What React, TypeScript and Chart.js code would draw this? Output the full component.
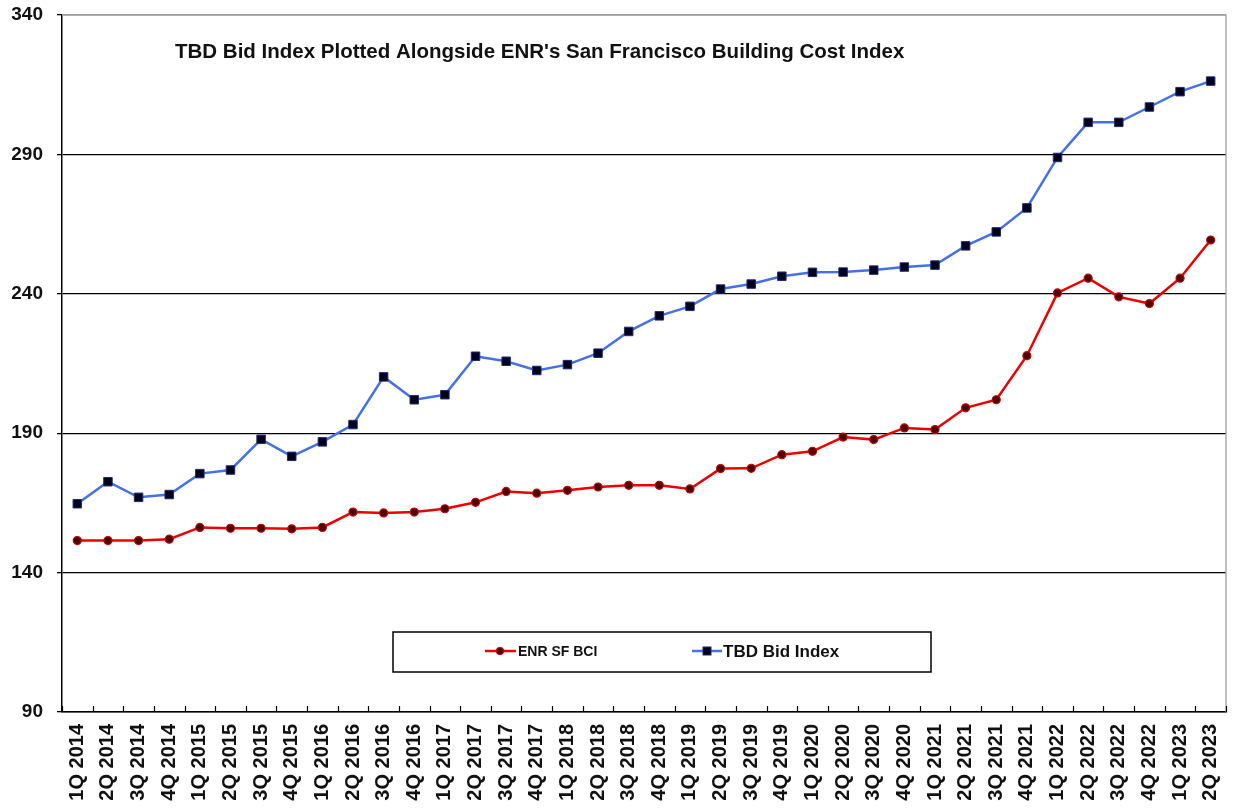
import React, { useEffect, useRef } from "react";
import { Chart, registerables } from "chart.js";

Chart.register(...registerables);

const quarters: string[] = [
  "1Q 2014", "2Q 2014", "3Q 2014", "4Q 2014",
  "1Q 2015", "2Q 2015", "3Q 2015", "4Q 2015",
  "1Q 2016", "2Q 2016", "3Q 2016", "4Q 2016",
  "1Q 2017", "2Q 2017", "3Q 2017", "4Q 2017",
  "1Q 2018", "2Q 2018", "3Q 2018", "4Q 2018",
  "1Q 2019", "2Q 2019", "3Q 2019", "4Q 2019",
  "1Q 2020", "2Q 2020", "3Q 2020", "4Q 2020",
  "1Q 2021", "2Q 2021", "3Q 2021", "4Q 2021",
  "1Q 2022", "2Q 2022", "3Q 2022", "4Q 2022",
  "1Q 2023", "2Q 2023",
];

const enrSfBci: number[] = [
  151.5, 151.5, 151.5, 152.0,
  156.2, 155.9, 155.9, 155.7,
  156.2, 161.7, 161.4, 161.7,
  162.9, 165.2, 169.1, 168.5,
  169.5, 170.7, 171.3, 171.3,
  170.0, 177.3, 177.4, 182.3,
  183.5, 188.6, 187.7, 191.9,
  191.3, 199.1, 202.0, 217.8,
  240.3, 245.6, 238.9, 236.5,
  245.6, 259.3,
];

const tbdBidIndex: number[] = [
  164.7, 172.6, 167.0, 168.0,
  175.5, 176.8, 187.8, 181.7,
  186.9, 193.1, 210.2, 202.0,
  203.8, 217.6, 215.8, 212.5,
  214.6, 218.7, 226.5, 232.1,
  235.5, 241.7, 243.5, 246.3,
  247.7, 247.8, 248.5, 249.6,
  250.3, 257.2, 262.2, 270.8,
  288.9, 301.5, 301.5, 307.0,
  312.5, 316.3,
];

const yTicks: number[] = [90, 140, 190, 240, 290, 340];

const chartTitle = "TBD Bid Index Plotted Alongside ENR's San Francisco Building Cost Index";
const seriesNames: string[] = ["ENR SF BCI", "TBD Bid Index"];

const FONT = "'Liberation Sans', Arial, Helvetica, sans-serif";

const decorPlugin = {
  id: "decor",
  beforeDatasetsDraw(chart: any) {
    const { ctx, chartArea: ca } = chart;
    ctx.save();
    ctx.strokeStyle = "#a0a0a0";
    ctx.lineWidth = 1.3;
    ctx.beginPath();
    ctx.moveTo(ca.left, ca.top);
    ctx.lineTo(ca.right, ca.top);
    ctx.lineTo(ca.right, ca.bottom);
    ctx.stroke();
    ctx.restore();
  },
  afterDraw(chart: any) {
    const { ctx, chartArea: ca } = chart;
    const xs = chart.scales.x;
    ctx.save();
    // inward x tick marks at category boundaries
    ctx.strokeStyle = "#000";
    ctx.lineWidth = 1.2;
    const n = quarters.length;
    const step = xs.getPixelForValue(1) - xs.getPixelForValue(0);
    for (let i = 0; i <= n; i++) {
      const x = Math.round(xs.getPixelForValue(i) - step / 2) + 0.5;
      ctx.beginPath();
      ctx.moveTo(x, ca.bottom);
      ctx.lineTo(x, ca.bottom - 6);
      ctx.stroke();
    }

    // title
    ctx.fillStyle = "#111";
    ctx.font = `bold 20.5px ${FONT}`;
    ctx.textBaseline = "alphabetic";
    ctx.textAlign = "left";
    ctx.fillText(chartTitle, ca.left + 113, ca.top + 43);

    // legend box
    const bx = ca.left + 331;
    const by = ca.bottom - 80;
    const bw = 538;
    const bh = 40;
    ctx.fillStyle = "#fff";
    ctx.fillRect(bx, by, bw, bh);
    ctx.strokeStyle = "#000";
    ctx.lineWidth = 1.5;
    ctx.strokeRect(bx, by, bw, bh);

    const cy = by + 19;
    const ds = chart.data.datasets;
    // item 1
    const l1 = bx + 92;
    ctx.strokeStyle = ds[0].borderColor;
    ctx.lineWidth = 2.5;
    ctx.beginPath();
    ctx.moveTo(l1, cy);
    ctx.lineTo(l1 + 31, cy);
    ctx.stroke();
    ctx.fillStyle = ds[0].pointBackgroundColor;
    ctx.strokeStyle = ds[0].pointBorderColor;
    ctx.lineWidth = 1.2;
    ctx.beginPath();
    ctx.arc(l1 + 15, cy, 3.5, 0, Math.PI * 2);
    ctx.fill();
    ctx.stroke();
    ctx.fillStyle = "#111";
    ctx.font = `bold 14px ${FONT}`;
    ctx.textBaseline = "middle";
    ctx.fillText(ds[0].label, l1 + 33, cy + 1);

    // item 2
    const l2 = bx + 299;
    ctx.strokeStyle = ds[1].borderColor;
    ctx.lineWidth = 2.5;
    ctx.beginPath();
    ctx.moveTo(l2, cy);
    ctx.lineTo(l2 + 30, cy);
    ctx.stroke();
    ctx.fillStyle = ds[1].pointBackgroundColor;
    ctx.strokeStyle = ds[1].pointBorderColor;
    ctx.lineWidth = 1;
    ctx.fillRect(l2 + 11, cy - 4, 8, 8);
    ctx.strokeRect(l2 + 11, cy - 4, 8, 8);
    ctx.fillStyle = "#111";
    ctx.font = `bold 17px ${FONT}`;
    ctx.fillText(ds[1].label, l2 + 31, cy + 1);
    ctx.restore();
  },
};

export default function App() {
  const ref = useRef<HTMLCanvasElement>(null);

  useEffect(() => {
    document.body.style.margin = "0";
    const canvas = ref.current;
    if (!canvas) return;
    const chart = new Chart(canvas, {
      type: "line",
      data: {
        labels: quarters,
        datasets: [
          {
            label: seriesNames[0],
            data: enrSfBci,
            borderColor: "#ee0000",
            borderWidth: 2.5,
            pointStyle: "circle",
            pointRadius: 4,
            pointBackgroundColor: "#4a0000",
            pointBorderColor: "#cc0000",
            pointBorderWidth: 1.2,
            tension: 0,
            fill: false,
          },
          {
            label: seriesNames[1],
            data: tbdBidIndex,
            borderColor: "#4670e8",
            borderWidth: 2.5,
            pointStyle: "rect",
            pointRadius: 6,
            pointBackgroundColor: "#000018",
            pointBorderColor: "#1a2a80",
            pointBorderWidth: 1,
            tension: 0,
            fill: false,
          },
        ],
      },
      options: {
        responsive: false,
        animation: false,
        devicePixelRatio: 1,
        layout: { padding: { top: 15, right: 2, left: 0, bottom: 0 } },
        plugins: {
          legend: { display: false },
          title: { display: false },
          tooltip: { enabled: false },
        },
        scales: {
          x: {
            type: "category",
            offset: true,
            grid: { display: false, drawTicks: false },
            border: { display: true, color: "#000", width: 1.5 },
            ticks: {
              autoSkip: false,
              maxRotation: 90,
              minRotation: 90,
              padding: 12,
              color: "#111",
              font: { family: FONT, size: 20, weight: "bold" },
            },
            afterFit: (s: any) => {
              s.height = 96;
              s.paddingLeft = 0;
              s.paddingRight = 0;
            },
          },
          y: {
            min: yTicks[0],
            max: yTicks[yTicks.length - 1],
            afterBuildTicks: (s: any) => {
              s.ticks = yTicks.map((v) => ({ value: v }));
            },
            grid: {
              color: (c: any) => (c.tick && c.tick.value === yTicks[yTicks.length - 1] ? "#a0a0a0" : "#000"),
              lineWidth: 1.3,
              tickLength: 5,
              tickColor: "#000",
              drawTicks: true,
            },
            border: { display: true, color: "#000", width: 1.5 },
            ticks: {
              padding: 14,
              color: "#111",
              font: { family: FONT, size: 19, weight: "bold" },
            },
            afterFit: (s: any) => {
              s.width = 62;
              s.paddingTop = 0;
              s.paddingBottom = 0;
            },
          },
        },
      },
      plugins: [decorPlugin],
    });
    return () => chart.destroy();
  }, []);

  return (
    <div style={{ width: 1233, height: 808, position: "relative" }}>
      <canvas ref={ref} width={1233} height={808} style={{ display: "block" }} />
    </div>
  );
}
